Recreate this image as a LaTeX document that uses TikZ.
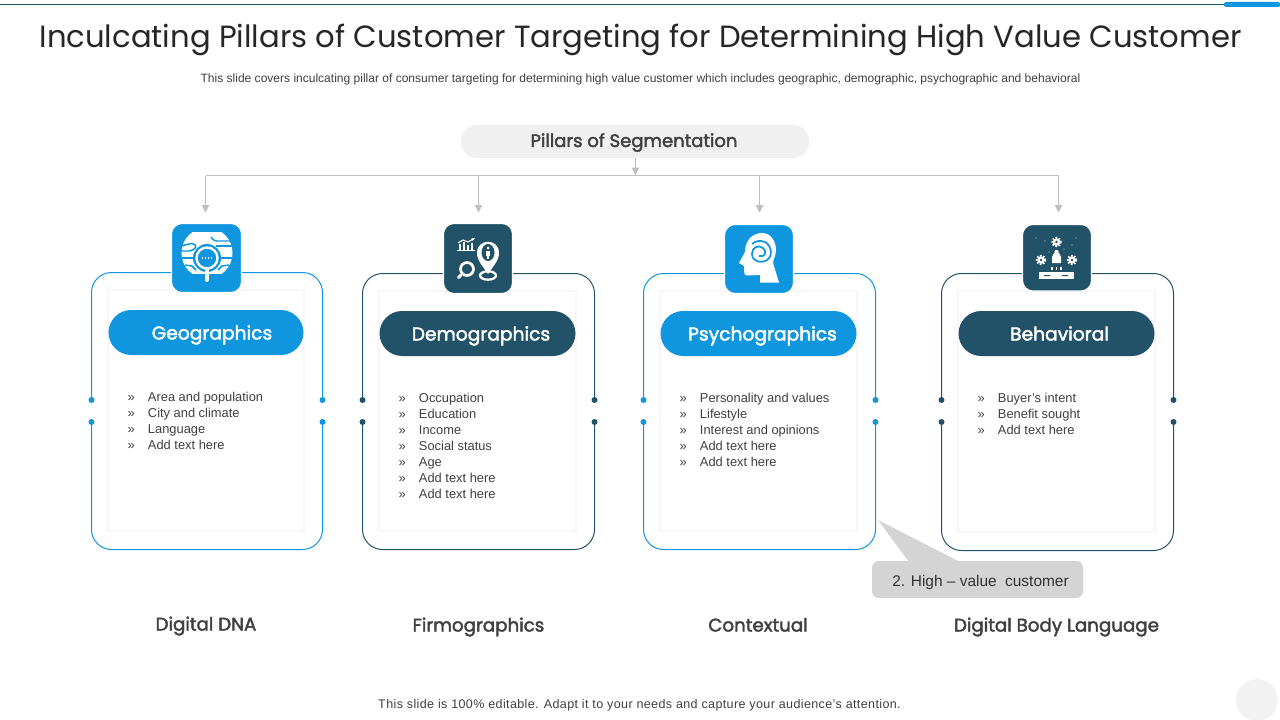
\documentclass[tikz,border=0pt]{standalone}
\usepackage{fontspec}
\setmainfont{Liberation Sans}
\newfontfamily\headfont{Poppins}
\newfontfamily\headbold[FakeBold=2.2]{Poppins}
\usetikzlibrary{arrows.meta,calc}
\definecolor{cblue}{HTML}{0F96DF}
\definecolor{cdark}{HTML}{215267}
\definecolor{ctext}{HTML}{404040}
\definecolor{cgrey}{HTML}{BFBFBF}
\tikzset{
 x=0.75pt,y=-0.75pt,
 px/.style={inner sep=0pt,outer sep=0pt},
 outer/.style={draw=#1,line width=0.75pt,rounded corners=15pt},
 card/.style={draw=black!3,line width=1.5pt,fill=white},
 pill/.style={fill=#1,rounded corners=17pt},
 iconbox/.style={fill=#1,draw=white,line width=0.8pt,rounded corners=8pt},
 pilltext/.style={px,anchor=base,text=white,font=\headbold\fontsize{14}{16}\selectfont},
 bodytext/.style={px,anchor=north west,text=ctext,align=left,font=\fontsize{9.65}{12}\selectfont},
 foot/.style={px,anchor=base,text=ctext,font=\headbold\fontsize{13.7}{16}\selectfont},
 branch/.style={draw=cgrey,line width=0.75pt,-{Triangle[length=5.5pt,width=5.5pt]}},
 dot/.style={circle,fill=#1,minimum size=4.5pt,inner sep=0pt},
}
\newcommand{\pillar}[9]{%
 \draw[outer=#6] (#2.5,#4.5) rectangle (#3.5,#5.5);
 \foreach \xx in {#2.5,#3.5} \draw[white,line width=1.5pt] (\xx,402) -- (\xx,420);
 \draw[card] ({#2+17},{#4+17.5}) rectangle ({#3-18},{#5-18});
 \path[pill=#6] ({#2+17.5},{#4+38}) rectangle ({#3-18.5},{#4+83});
 \node[pilltext] (#1pill) at ({(#2+#3)/2+#8},{#4+67.5}) {#7};
 \node[bodytext] (#1body) at ({#2+36.5},{#4+120.5}) {#9};
 \foreach \xx in {#2.5,#3.5} \foreach \yy in {400,422} \node[dot=#6] at (\xx,\yy) {};
}
\begin{document}
\begin{tikzpicture}
\useasboundingbox (0,0) rectangle (1280,720);
\fill[white] (0,0) rectangle (1280,720);
% top rule
\draw[cdark,line width=0.75pt] (0,4.5) -- (1226,4.5);
\fill[cblue,rounded corners=1.5pt] (1224,2) rectangle (1280,7);
% title
\node[px,anchor=base,text=black!85] (title) at (640.5,48) {\headfont\fontsize{23}{30}\selectfont Inculcating Pillars of Customer Targeting for Determining High Value Customer};
\node[px,anchor=base,text=ctext] (sub) at (640.5,82.5) {\fontsize{9.02}{11}\selectfont This slide covers inculcating pillar of consumer targeting for determining high value customer which includes geographic, demographic, psychographic and behavioral};
% header
\path[fill=black!6,rounded corners=12pt] (461,125) rectangle (809,158);
\node[px,anchor=base,text=ctext] (head) at (634,147) {\headbold\fontsize{13.5}{16}\selectfont Pillars of Segmentation};
% connectors
\coordinate (hubtop) at (635.5,158);
\coordinate (hub) at (635.5,175);
\coordinate (t1) at (205.5,212.5);
\coordinate (t2) at (478.5,212.5);
\coordinate (t3) at (759.5,212.5);
\coordinate (t4) at (1058.5,212.5);
\coordinate (rail) at (635.5,176);
\draw[branch] (hubtop) -- (hub);
\draw[cgrey,line width=0.75pt] (t1 |- rail) -- (t4 |- rail);
\draw[branch] (t1 |- rail) -- (t1);
\draw[branch] (t2 |- rail) -- (t2);
\draw[branch] (t3 |- rail) -- (t3);
\draw[branch] (t4 |- rail) -- (t4);
% pillars
\pillar{geo}{91}{322}{272}{549}{cblue}{Geographics}{5.5}{»\hspace{10pt}Area and population\\»\hspace{10pt}City and climate\\»\hspace{10pt}Language\\»\hspace{10pt}Add text here}
\pillar{dem}{362}{594}{273}{549}{cdark}{Demographics}{3}{»\hspace{10pt}Occupation\\»\hspace{10pt}Education\\»\hspace{10pt}Income\\»\hspace{10pt}Social status\\»\hspace{10pt}Age\\»\hspace{10pt}Add text here\\»\hspace{10pt}Add text here}
\pillar{psy}{643}{875}{273}{549}{cblue}{Psychographics}{3.5}{»\hspace{10pt}Personality and values\\»\hspace{10pt}Lifestyle\\»\hspace{10pt}Interest and opinions\\»\hspace{10pt}Add text here\\»\hspace{10pt}Add text here}
\pillar{beh}{941}{1173}{273}{550}{cdark}{Behavioral}{2.5}{»\hspace{10pt}Buyer's intent\\»\hspace{10pt}Benefit sought\\»\hspace{10pt}Add text here}
% icon boxes
\path[iconbox=cblue] (171.5,223.5) rectangle (241.5,292.5);
\path[iconbox=cdark] (443.5,223.5) rectangle (512.5,293.5);
\path[iconbox=cblue] (724.5,224.5) rectangle (793.5,293.5);
\path[iconbox=cdark] (1022.5,224.5) rectangle (1091.5,291);
% globe icon
\begin{scope}
 \clip (175,233) rectangle (240,273);
 \fill[white] (207,253) circle (25.5);
\end{scope}
\draw[cblue,line width=1.1pt,rounded corners=2pt] (181,246) -- (193,243) -- (197,247) -- (191,251) -- (181,251);
\draw[cblue,line width=1.1pt,rounded corners=2pt] (211,237) -- (214,241) -- (232,241);
\draw[cblue,line width=1.1pt,rounded corners=2pt] (216,246) -- (233,246);
\draw[cblue,line width=1.1pt] (182,258) -- (194,258);
\draw[cblue,line width=1.1pt] (220,258) -- (232,258);
\draw[cblue,line width=1.1pt] (185,265) -- (192,266) -- (196,270);
\draw[cblue,line width=1.1pt] (229,265) -- (222,266) -- (218,270);
\fill[cblue] (207,258) circle (14);
\draw[white,line width=1.8pt] (207,258) circle (10.5);
\draw[white,line width=1pt,dash pattern=on 1pt off 1.2pt] (202,258) -- (213,258);
\draw[white,line width=3pt,line cap=round] (207,270) -- (207,280);
% demographics icon
\draw[white,line width=0.9pt] (457,250.5) -- (475,250.5);
\draw[white,line width=1.1pt] (460,250) -- (460,244) (464,250) -- (464,242) (468,250) -- (468,245) (472,250) -- (472,243);
\draw[white,line width=0.8pt,-{Stealth[length=3pt]}] (458,243) -- (463,240) -- (468,242) -- (475,238);
\draw[white,line width=2pt] (467,269) circle (6.5);
\draw[white,line width=2.2pt,line cap=round] (461,275) -- (458.5,277.5);
\fill[white] (488,274) .. controls (483,266) and (477,261) .. (477,253) .. controls (477,238) and (499,238) .. (499,253) .. controls (499,261) and (493,266) .. (488,274) -- cycle;
\fill[cdark] (488,252.5) ellipse (6.5 and 8.5);
\fill[white] (488,248) circle (1.5);
\fill[white] (486,250.5) rectangle (490,255.5);
\fill[white] (486.8,255.5) rectangle (489.2,259);
\draw[white,line width=1.7pt] (488,275.5) ellipse (8 and 4.2);
% head icon
\fill[white] (739,263) -- (745,252) .. controls (745,240) and (753,233) .. (762,233) .. controls (772,233) and (776,243) .. (776,250) .. controls (776,256) and (773,259) .. (773,263) -- (779,282.5) -- (760,282.5) -- (760,275) -- (747,275.5) .. controls (744,275.5) and (744,272) .. (744,268) -- (744,266) -- cycle;
\draw[cblue,line width=1.3pt] (759,256) .. controls (764,258) and (768,252) .. (763,248) .. controls (758,244) and (752,248) .. (752,254) .. controls (752,261) and (760,264) .. (767,260) .. controls (773,256) and (772,246) .. (765,242) .. controls (760,240) and (755,241) .. (752,244);
% behavioral icon
\foreach \p in {(1056.5,242),(1041,260),(1072,260)} {\fill[white] \p circle (3.8); \draw[white,line width=1.2pt,dash pattern=on 1.2pt off 1.2pt] \p circle (4.4); }
\foreach \p in {(1056.5,242),(1041,260),(1072,260)} \fill[cdark] \p circle (1.4);
\fill[white] (1052,263) -- (1052,257) -- (1054,253) -- (1059,253) -- (1061,257) -- (1061,263) -- cycle;
\fill[white] (1056.5,252) circle (2.2);
\fill[white] (1039,272) rectangle (1074,279);
\fill[cdark] (1044,275) rectangle (1050,276) (1062,275) rectangle (1068,276);
\draw[white,line width=0.8pt] (1052,267) -- (1052,270) (1056.5,267) -- (1056.5,270) (1061,267) -- (1061,270);
\foreach \p in {(1036,238),(1045,241),(1076,238),(1072,245),(1049,252),(1064,249)} \fill[white!70!cblue] \p circle (0.7);
% bottom labels
\node[foot] (fa) at (206,630.5) {Digital DNA};
\node[foot] (fb) at (478.5,631.5) {Firmographics};
\node[foot] (fc) at (758,631.5) {Contextual};
\node[foot] (fd) at (1056.5,631.5) {Digital Body Language};
% callout
\path[fill=black!17] (878,520) -- (960,562) -- (909,562) -- cycle;
\path[fill=black!17,rounded corners=5pt] (872,561) rectangle (1083,598);
\node[px,anchor=base,text=black!80] (callout) at (980.5,586) {\fontsize{11.6}{14}\selectfont 2. High – value\hspace{3pt} customer};
% footer
\node[px,anchor=base,text=ctext] (footer) at (639.5,708) {\fontsize{9.4}{11}\selectfont\addfontfeature{LetterSpace=3}This slide is 100\% editable. Adapt it to your needs and capture your audience's attention.};
\fill[black!5] (1257,700) circle (21);
\end{tikzpicture}
\end{document}
